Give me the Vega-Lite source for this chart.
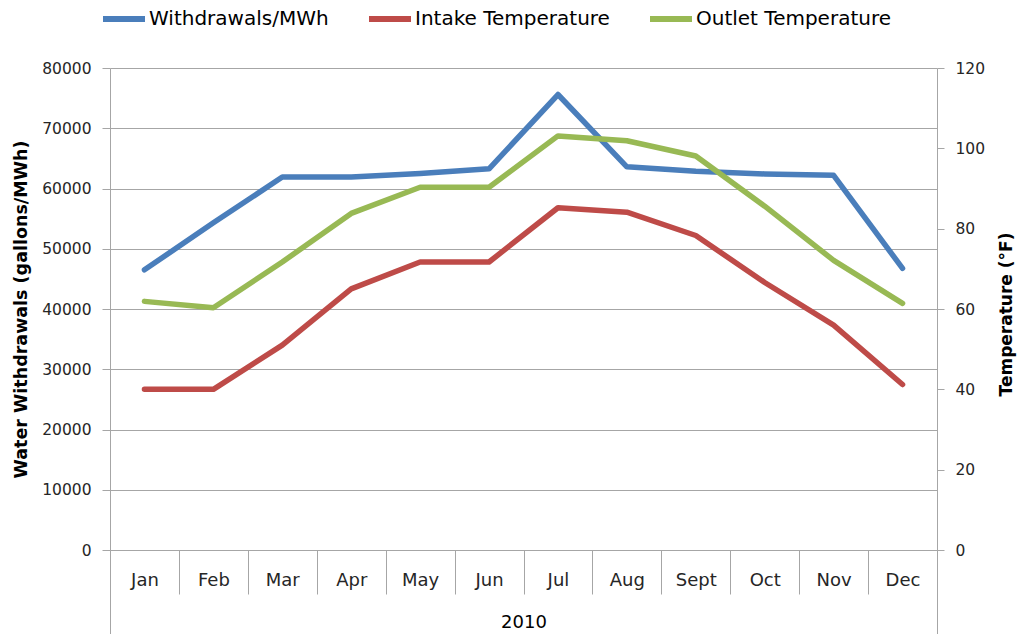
{
  "$schema": "https://vega.github.io/schema/vega-lite/v6.json",
  "width": 827,
  "height": 482,
  "autosize": {"type": "none"},
  "padding": {"left": 110, "top": 68, "right": 81, "bottom": 84},
  "background": "white",
  "config": {
    "view": {"stroke": null},
    "font": "DejaVu Sans",
    "axis": {
      "labelFont": "DejaVu Sans",
      "titleFont": "DejaVu Sans",
      "domainColor": "#a6a6a6",
      "tickColor": "#a6a6a6",
      "gridColor": "#a6a6a6",
      "labelColor": "#262626",
      "titleColor": "#000000"
    }
  },
  "data": {
    "values": [
      {"month": "Jan", "series": "Withdrawals/MWh", "value": 46500},
      {"month": "Feb", "series": "Withdrawals/MWh", "value": 54300},
      {"month": "Mar", "series": "Withdrawals/MWh", "value": 61900},
      {"month": "Apr", "series": "Withdrawals/MWh", "value": 61900},
      {"month": "May", "series": "Withdrawals/MWh", "value": 62470},
      {"month": "Jun", "series": "Withdrawals/MWh", "value": 63260},
      {"month": "Jul", "series": "Withdrawals/MWh", "value": 75600},
      {"month": "Aug", "series": "Withdrawals/MWh", "value": 63600},
      {"month": "Sept", "series": "Withdrawals/MWh", "value": 62860},
      {"month": "Oct", "series": "Withdrawals/MWh", "value": 62420},
      {"month": "Nov", "series": "Withdrawals/MWh", "value": 62180},
      {"month": "Dec", "series": "Withdrawals/MWh", "value": 46740},
      {"month": "Jan", "series": "Intake Temperature", "value": 40},
      {"month": "Feb", "series": "Intake Temperature", "value": 40},
      {"month": "Mar", "series": "Intake Temperature", "value": 51},
      {"month": "Apr", "series": "Intake Temperature", "value": 65},
      {"month": "May", "series": "Intake Temperature", "value": 71.7},
      {"month": "Jun", "series": "Intake Temperature", "value": 71.7},
      {"month": "Jul", "series": "Intake Temperature", "value": 85.2},
      {"month": "Aug", "series": "Intake Temperature", "value": 84.1},
      {"month": "Sept", "series": "Intake Temperature", "value": 78.3},
      {"month": "Oct", "series": "Intake Temperature", "value": 66.6},
      {"month": "Nov", "series": "Intake Temperature", "value": 56},
      {"month": "Dec", "series": "Intake Temperature", "value": 41.2},
      {"month": "Jan", "series": "Outlet Temperature", "value": 61.9},
      {"month": "Feb", "series": "Outlet Temperature", "value": 60.3},
      {"month": "Mar", "series": "Outlet Temperature", "value": 71.7},
      {"month": "Apr", "series": "Outlet Temperature", "value": 83.8},
      {"month": "May", "series": "Outlet Temperature", "value": 90.3},
      {"month": "Jun", "series": "Outlet Temperature", "value": 90.3},
      {"month": "Jul", "series": "Outlet Temperature", "value": 103.1},
      {"month": "Aug", "series": "Outlet Temperature", "value": 101.9},
      {"month": "Sept", "series": "Outlet Temperature", "value": 98.1},
      {"month": "Oct", "series": "Outlet Temperature", "value": 85.6},
      {"month": "Nov", "series": "Outlet Temperature", "value": 72.1},
      {"month": "Dec", "series": "Outlet Temperature", "value": 61.4}
    ]
  },
  "layer": [
    {
      "layer": [
        {
          "transform": [{"filter": "datum.series === 'Withdrawals/MWh'"}],
          "mark": {"type": "line", "strokeWidth": 5.5, "strokeCap": "round", "strokeJoin": "round"},
          "encoding": {
            "x": {
              "field": "month", "type": "nominal",
              "sort": ["Jan","Feb","Mar","Apr","May","Jun","Jul","Aug","Sept","Oct","Nov","Dec"],
              "scale": {"type": "band", "paddingInner": 0, "paddingOuter": 0},
              "axis": {
                "title": "2010",
                "titleFontSize": 18,
                "titleFontWeight": "normal",
                "titleY": 72,
                "titleBaseline": "middle",
                "labelFontSize": 18,
                "labelAngle": 0,
                "labelBaseline": "middle",
                "labelPadding": -14,
                "tickBand": "extent",
                "tickSize": 44,
                "domain": true,
                "grid": false
              }
            },
            "y": {
              "field": "value", "type": "quantitative",
              "scale": {"domain": [0, 80000], "nice": false},
              "axis": {
                "title": "Water Withdrawals (gallons/MWh)",
                "titleFontSize": 17.5,
                "titleFontWeight": "bold",
                "titleAngle": -90,
                "titleX": -89,
                "titleY": 241,
                "titleAlign": "center",
                "titleBaseline": "middle",
                "values": [0,10000,20000,30000,40000,50000,60000,70000,80000],
                "format": "d",
                "labelFontSize": 15.5,
                "tickSize": 8,
                "labelPadding": 11,
                "grid": true
              }
            },
            "color": {
              "field": "series", "type": "nominal",
              "scale": {
                "domain": ["Withdrawals/MWh", "Intake Temperature", "Outlet Temperature"],
                "range": ["#4a7ebb", "#be4b48", "#98b954"]
              },
              "legend": {
                "title": null,
                "orient": "none",
                "legendX": -10,
                "legendY": -73,
                "direction": "horizontal",
                "symbolType": "stroke",
                "symbolSize": 1764,
                "symbolStrokeWidth": 6,
                "labelFont": "DejaVu Sans",
                "labelFontSize": 20,
                "labelColor": "#000000",
                "labelLimit": 0,
                "labelOffset": 1,
                "columnPadding": 28
              }
            }
          }
        },
        {
          "transform": [{"filter": "datum.series !== 'Withdrawals/MWh'"}],
          "mark": {"type": "line", "strokeWidth": 5.5, "strokeCap": "round", "strokeJoin": "round"},
          "encoding": {
            "x": {
              "field": "month", "type": "nominal",
              "sort": ["Jan","Feb","Mar","Apr","May","Jun","Jul","Aug","Sept","Oct","Nov","Dec"],
              "scale": {"type": "band", "paddingInner": 0, "paddingOuter": 0}
            },
            "y": {
              "field": "value", "type": "quantitative",
              "scale": {"domain": [0, 120], "nice": false},
              "axis": {
                "orient": "right",
                "title": "Temperature (°F)",
                "titleFontSize": 17,
                "titleFontWeight": "bold",
                "titleAngle": -90,
                "titleX": 69,
                "titleY": 246,
                "titleAlign": "center",
                "titleBaseline": "middle",
                "values": [0,20,40,60,80,100,120],
                "labelFontSize": 15.5,
                "tickSize": 7,
                "labelPadding": 11,
                "grid": false
              }
            },
            "color": {"field": "series", "type": "nominal"}
          }
        }
      ],
      "resolve": {"scale": {"y": "independent"}}
    },
    {
      "mark": {"type": "rule", "strokeOpacity": 0},
      "encoding": {
        "x": {
          "datum": 0, "type": "quantitative",
          "scale": {"domain": [0, 1], "nice": false, "zero": false},
          "axis": {
            "orient": "bottom",
            "values": [0, 1],
            "tickSize": 84,
            "labels": false,
            "domain": false,
            "grid": false,
            "title": null
          }
        }
      }
    }
  ],
  "resolve": {"scale": {"x": "independent"}, "axis": {"x": "independent"}}
}
